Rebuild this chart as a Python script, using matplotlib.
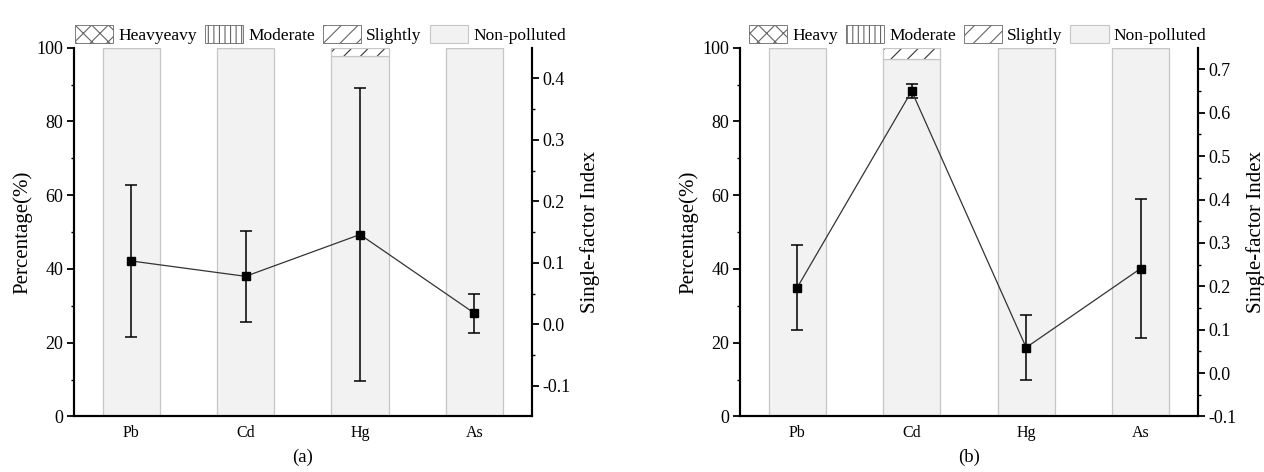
import numpy as np
import matplotlib
matplotlib.use("Agg")
import matplotlib.pyplot as plt
from matplotlib.patches import Patch

plt.rcParams['font.family'] = ['Liberation Serif', 'DejaVu Serif']
plt.rcParams['hatch.linewidth'] = 0.8

metals = ["Pb", "Cd", "Hg", "As"]

# panel (a)
non_a = [100, 100, 97.8, 100]
slight_a = [0, 0, 2.2, 0]
index_a = [0.103, 0.078, 0.146, 0.018]
err_a = [0.123, 0.074, 0.239, 0.032]

# panel (b)
non_b = [100, 97, 100, 100]
slight_b = [0, 3, 0, 0]
index_b = [0.197, 0.650, 0.059, 0.241]
err_b = [0.098, 0.017, 0.074, 0.161]

legend_a = ["Heavyeavy", "Moderate", "Slightly", "Non-polluted"]
legend_b = ["Heavy", "Moderate", "Slightly", "Non-polluted"]

bar_face = "#f2f2f2"
bar_edge = "#c6c6c6"

fig = plt.figure(figsize=(12.64, 4.72), dpi=100)


def draw_panel(rect, non, slight, idx, err, ylim2, ticks2, legend_labels, tag, leg_x):
    ax = fig.add_axes(rect)
    x = np.arange(1, len(metals) + 1)
    ax.bar(x, non, width=0.5, color=bar_face, edgecolor=bar_edge, linewidth=0.9, zorder=1)
    # hatched "slightly" part on top of the non-polluted part
    ax.bar(x, slight, width=0.5, bottom=non, color="white", edgecolor="#333333",
           hatch="//", linewidth=0.0, zorder=1)
    ax.bar(x, slight, width=0.5, bottom=non, fill=False, edgecolor=bar_edge,
           linewidth=0.9, zorder=1.1)
    ax.set_xticks(x)
    ax.set_xticklabels(metals, fontsize=11.5)
    ax.set_yticks(range(0, 101, 20))
    ax.set_yticks(range(10, 100, 20), minor=True)
    ax.set_xlim(0.5, 4.5)
    ax.set_ylim(0, 100)
    ax.tick_params(axis="x", length=0, pad=6)
    ax.tick_params(axis="y", which="major", length=5, width=1.3, labelsize=13, pad=2.5)
    ax.tick_params(axis="y", which="minor", length=2.5, width=1.0)
    ax.set_ylabel("Percentage(%)", fontsize=15, labelpad=3)
    ax.spines["top"].set_visible(False)
    for s in ["left", "bottom", "right"]:
        ax.spines[s].set_linewidth(1.5)

    ax2 = ax.twinx()
    ax2.errorbar(x, idx, yerr=err, color="#333333", lw=0.9, marker="s", ms=5.5,
                 mfc="black", mec="black", ecolor="black", elinewidth=1.1,
                 capsize=4, capthick=1.1, zorder=3)
    ax2.set_yticks(ticks2)
    ax2.set_yticklabels([f"{t:.1f}" for t in ticks2])
    ax2.set_yticks(np.arange(ticks2[0] + 0.05, ylim2[1], 0.1), minor=True)
    ax2.set_ylim(*ylim2)
    ax2.tick_params(axis="y", which="major", length=5, width=1.3, labelsize=13, pad=2.5)
    ax2.tick_params(axis="y", which="minor", length=2.5, width=1.0)
    ax2.set_ylabel("Single-factor Index", fontsize=15, labelpad=7)
    ax2.spines["top"].set_visible(False)
    for s in ["left", "bottom", "right"]:
        ax2.spines[s].set_linewidth(1.5)

    handles = [
        Patch(facecolor="white", edgecolor="#666666", hatch="xx", lw=0.6),
        Patch(facecolor="white", edgecolor="#666666", hatch="|||", lw=0.6),
        Patch(facecolor="white", edgecolor="#666666", hatch="//", lw=0.6),
        Patch(facecolor=bar_face, edgecolor=bar_edge, lw=0.8),
    ]
    ax.legend(handles, legend_labels, ncol=4, frameon=False, fontsize=12.5,
              loc="lower left", bbox_to_anchor=(leg_x, 1.0),
              handlelength=2.2, handleheight=1.2, handletextpad=0.3,
              columnspacing=0.45, borderaxespad=0.2, borderpad=0.0)
    ax.text(0.5, -0.112, tag, transform=ax.transAxes, fontsize=13.5,
            ha="center", va="center")
    return ax, ax2


draw_panel([0.0585, 0.1176, 0.3621, 0.7814], non_a, slight_a, index_a, err_a,
           (-0.15, 0.45), [-0.1, 0.0, 0.1, 0.2, 0.3, 0.4], legend_a, "(a)", -0.005)
draw_panel([0.5854, 0.1176, 0.3623, 0.7814], non_b, slight_b, index_b, err_b,
           (-0.1, 0.75), [-0.1, 0.0, 0.1, 0.2, 0.3, 0.4, 0.5, 0.6, 0.7], legend_b, "(b)", 0.012)

fig.savefig("out.png", dpi=100)
